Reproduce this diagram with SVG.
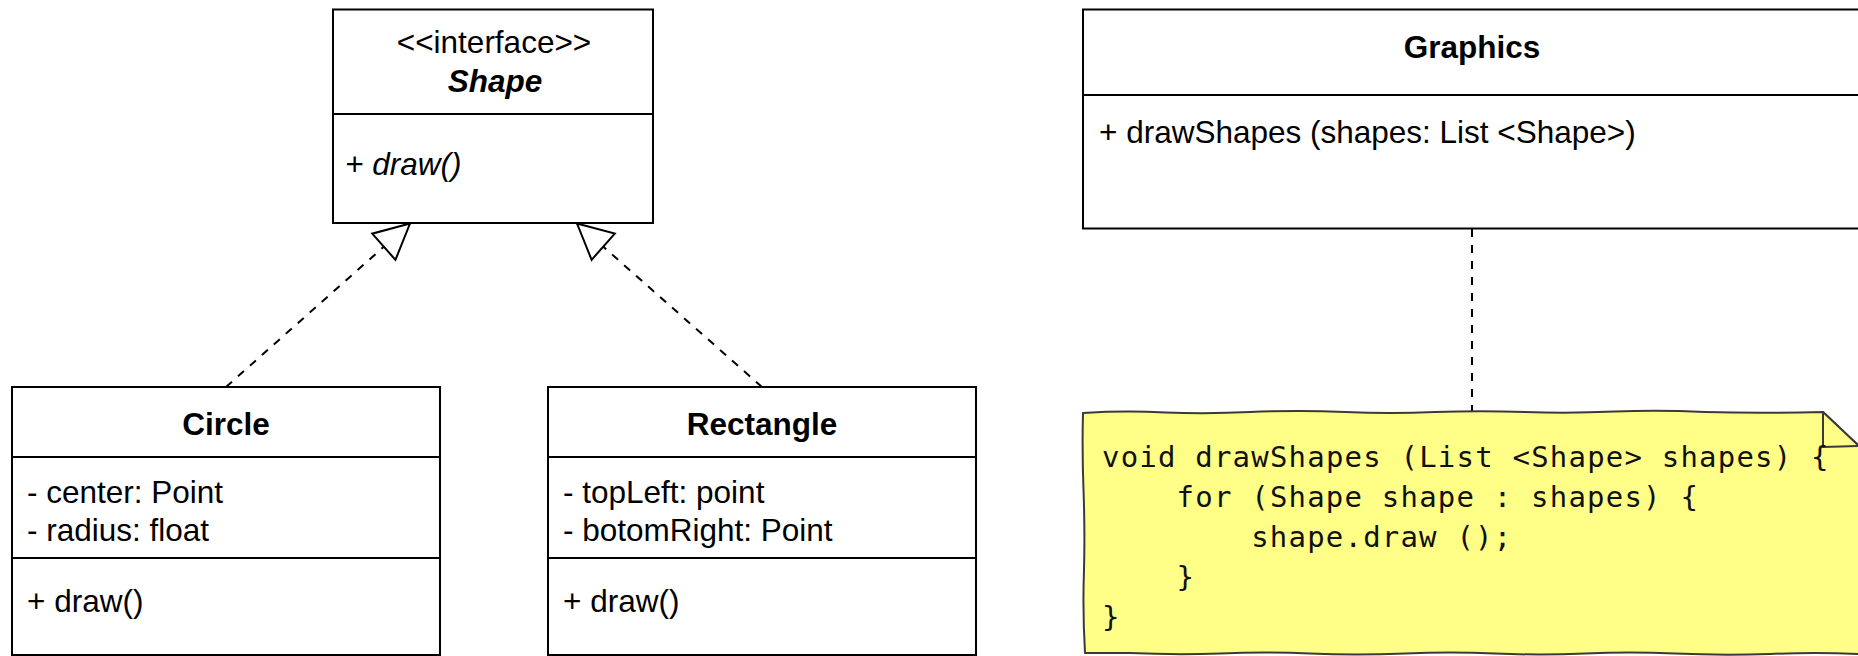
<svg xmlns="http://www.w3.org/2000/svg" width="1858" height="656" viewBox="0 0 1858 656">
  <style>
    .box { fill: #ffffff; stroke: #000000; stroke-width: 2; }
    .sep { stroke: #000000; stroke-width: 2; fill: none; }
    .t { font-family: "Liberation Sans", Arial, Helvetica, sans-serif; font-size: 31.5px; fill: #000000; }
    .title { font-weight: bold; text-anchor: middle; }
    .mid { text-anchor: middle; }
    .it { font-style: italic; }
    .dash { stroke: #000000; stroke-width: 2; fill: none; stroke-dasharray: 8 8; }
    .code { font-family: "DejaVu Sans Mono", "Liberation Mono", monospace; font-size: 29px; letter-spacing: 1.2px; fill: #111111; }
    .note { fill: #ffff88; stroke: #3a3a3a; stroke-width: 2; stroke-linejoin: round; }
  </style>
  <defs>
    <!-- hollow triangle for realization arrows -->
    <marker id="realize" markerUnits="userSpaceOnUse" markerWidth="40" markerHeight="40"
            viewBox="-37 -20 40 40" refX="0" refY="0" orient="auto">
      <path d="M0,0 L-35,-17.5 L-35,17.5 Z" fill="#ffffff" stroke="#000000" stroke-width="2" stroke-dasharray="none"/>
    </marker>
  </defs>

  <rect width="1858" height="656" fill="#ffffff"/>

  <!-- connectors -->
  <g id="connectors">
    <path class="dash" d="M226,387 L410,223.5" marker-end="url(#realize)"/>
    <path class="dash" d="M762,387 L577,223.5" marker-end="url(#realize)"/>
    <path class="dash" d="M1472,229 L1472,412"/>
  </g>

  <!-- interface Shape -->
  <g id="shape">
    <rect class="box" x="333" y="9.5" width="320" height="213.5"/>
    <line class="sep" x1="333" y1="114" x2="653" y2="114"/>
    <text class="t mid" x="494" y="53">&lt;&lt;interface&gt;&gt;</text>
    <text class="t title it" x="495" y="92">Shape</text>
    <text class="t it" x="345" y="175">+ draw()</text>
  </g>

  <!-- class Circle -->
  <g id="circle">
    <rect class="box" x="12" y="387" width="428" height="268"/>
    <line class="sep" x1="12" y1="457" x2="440" y2="457"/>
    <line class="sep" x1="12" y1="558" x2="440" y2="558"/>
    <text class="t title" x="226" y="435">Circle</text>
    <text class="t" x="27" y="503">- center: Point</text>
    <text class="t" x="27" y="541">- radius: float</text>
    <text class="t" x="27" y="612">+ draw()</text>
  </g>

  <!-- class Rectangle -->
  <g id="rectangle">
    <rect class="box" x="548" y="387" width="428" height="268"/>
    <line class="sep" x1="548" y1="457" x2="976" y2="457"/>
    <line class="sep" x1="548" y1="558" x2="976" y2="558"/>
    <text class="t title" x="762" y="435">Rectangle</text>
    <text class="t" x="563" y="503">- topLeft: point</text>
    <text class="t" x="563" y="541">- botomRight: Point</text>
    <text class="t" x="563" y="612">+ draw()</text>
  </g>

  <!-- class Graphics -->
  <g id="graphics">
    <rect class="box" x="1083" y="9.5" width="778" height="219"/>
    <line class="sep" x1="1083" y1="95" x2="1861" y2="95"/>
    <text class="t title" x="1472" y="58">Graphics</text>
    <text class="t" x="1099" y="143">+ drawShapes (shapes: List &lt;Shape&gt;)</text>
  </g>

  <!-- sketched note with folded corner -->
  <g id="note">
    <path class="note" d="M1083,413
      Q1125,410.5 1165,412.5 Q1210,414 1250,412 Q1300,410 1345,412 Q1390,414 1435,412 Q1480,410.5 1525,412
      Q1570,413.5 1615,411.5 Q1660,410 1705,412 Q1760,413.5 1823,412
      L1859,446 L1860,654
      Q1815,652 1770,654 Q1720,655.5 1675,653.5 Q1630,651.5 1585,653.5 Q1540,655.5 1495,653.5
      Q1450,651.5 1405,653.5 Q1355,655.5 1310,653.5 Q1265,651.5 1220,653.5 Q1175,655 1130,653 L1085,653
      Q1082.5,610 1084,570 Q1085,530 1083.5,490 Q1082,450 1083,413 Z"/>
    <path class="note" d="M1823,412 L1859,446 L1823,447 Z"/>
    <text class="code" x="1102" y="467">void drawShapes (List &lt;Shape&gt; shapes) {</text>
    <text class="code" x="1176.6" y="507">for (Shape shape : shapes) {</text>
    <text class="code" x="1251.2" y="547">shape.draw ();</text>
    <text class="code" x="1176.6" y="587">}</text>
    <text class="code" x="1102" y="627">}</text>
  </g>
</svg>
